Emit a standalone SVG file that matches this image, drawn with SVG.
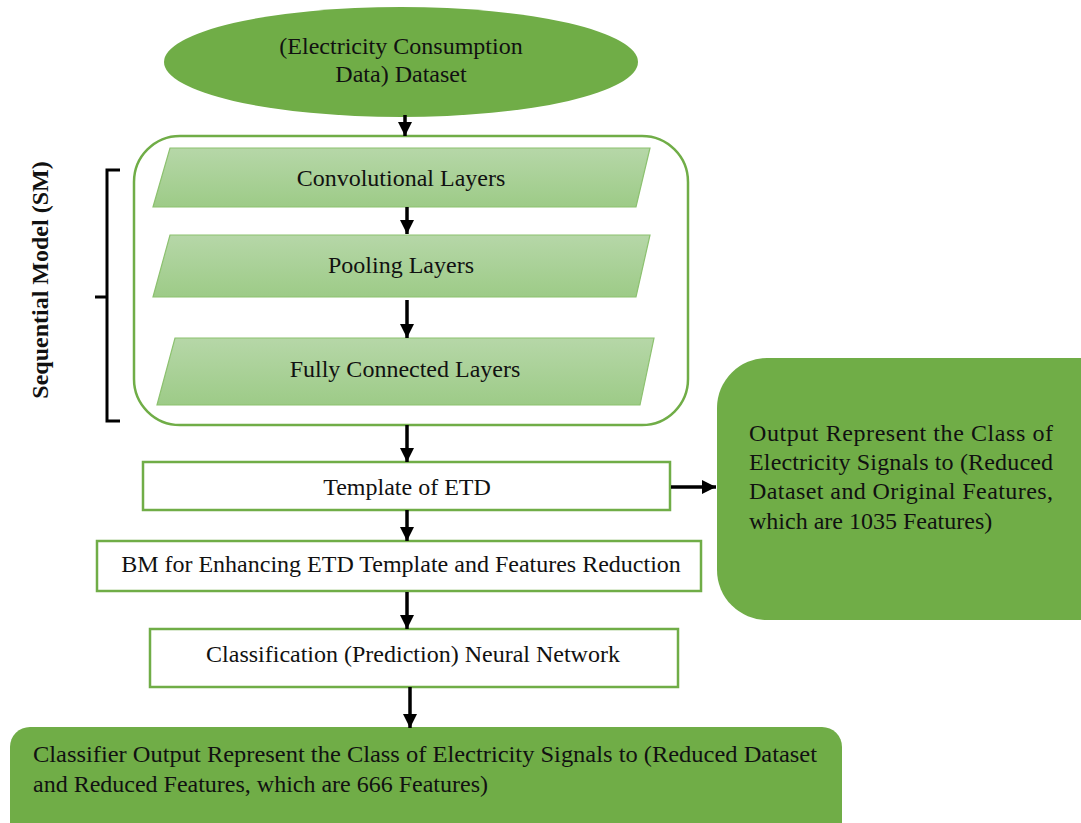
<svg xmlns="http://www.w3.org/2000/svg" width="1081" height="823" viewBox="0 0 1081 823">
<defs>
<linearGradient id="pg" x1="0" y1="0" x2="0" y2="1">
<stop offset="0" stop-color="#B6D7A8"/>
<stop offset="1" stop-color="#9DCB87"/>
</linearGradient>
<marker id="ah" viewBox="0 0 10 10" refX="10" refY="5" markerWidth="4" markerHeight="4" markerUnits="strokeWidth" orient="auto">
<path d="M0,0 L10,5 L0,10 z" fill="#000"/>
</marker>
</defs>
<style>
text{font-family:'Liberation Serif',serif;font-size:24px;fill:#111}
.c{text-anchor:middle}
.box{fill:#fff;stroke:#70AD47;stroke-width:2.5}
.para{fill:url(#pg);stroke:#8CC16F;stroke-width:1.2}
.green{fill:#70AD47;stroke:none}
.conn line{stroke:#000;stroke-width:3.5;marker-end:url(#ah)}
</style>
<rect width="1081" height="823" fill="#fff"/>
<g id="dataset">
<ellipse cx="401" cy="62" rx="237" ry="55" class="green"/>
<text class="c" x="401" y="54">(Electricity Consumption</text>
<text class="c" x="401" y="82">Data) Dataset</text>
</g>
<g id="sm-container">
<rect x="134" y="136" width="554" height="289" rx="46" fill="#fff" stroke="#70AD47" stroke-width="2.5"/>
</g>
<g id="conv">
<polygon class="para" points="170,148 650,148 636,207 153,207"/>
<text class="c" x="401" y="186">Convolutional Layers</text>
</g>
<g id="pool">
<polygon class="para" points="170,235 650,235 636,297 153,297"/>
<text class="c" x="401" y="273">Pooling Layers</text>
</g>
<g id="fc">
<polygon class="para" points="175,338 654,338 640,405 157,405"/>
<text class="c" x="405" y="377">Fully Connected Layers</text>
</g>
<g id="sm-label">
<path d="M120,170 L107,170 L107,421 L120,421 M107,297 L95,297" fill="none" stroke="#000" stroke-width="3"/>
<text transform="translate(48,280) rotate(-90)" class="c" style="font-weight:bold">Sequential Model (SM)</text>
</g>
<g id="template">
<rect class="box" x="143" y="462" width="527" height="48"/>
<text class="c" x="407" y="495">Template of ETD</text>
</g>
<g id="bm">
<rect class="box" x="97" y="541" width="604" height="50"/>
<text class="c" x="401" y="572">BM for Enhancing ETD Template and Features Reduction</text>
</g>
<g id="classify">
<rect class="box" x="150" y="629" width="528" height="58"/>
<text class="c" x="413" y="662">Classification (Prediction) Neural Network</text>
</g>
<g id="output1">
<rect class="green" x="717" y="358" width="420" height="262" rx="50"/>
<text x="749" y="441" textLength="304" lengthAdjust="spacing">Output Represent the Class of</text>
<text x="749" y="470" textLength="304" lengthAdjust="spacing">Electricity Signals to (Reduced</text>
<text x="749" y="499" textLength="304" lengthAdjust="spacing">Dataset and Original Features,</text>
<text x="749" y="529">which are 1035 Features)</text>
</g>
<g id="output2">
<rect class="green" x="10" y="727" width="832" height="120" rx="20"/>
<text x="33" y="762" textLength="784" lengthAdjust="spacingAndGlyphs">Classifier Output Represent the Class of Electricity Signals to (Reduced Dataset</text>
<text x="33" y="792" textLength="455" lengthAdjust="spacingAndGlyphs">and Reduced Features, which are 666 Features)</text>
</g>
<g class="conn" id="connectors">
<line x1="405" y1="115" x2="405" y2="136"/>
<line x1="407" y1="207" x2="407" y2="234"/>
<line x1="407" y1="300" x2="407" y2="338"/>
<line x1="407" y1="425" x2="407" y2="462"/>
<line x1="407" y1="510" x2="407" y2="541"/>
<line x1="407" y1="592" x2="407" y2="629"/>
<line x1="410" y1="687" x2="410" y2="728"/>
<line x1="671" y1="487" x2="716" y2="487"/>
</g>
</svg>
